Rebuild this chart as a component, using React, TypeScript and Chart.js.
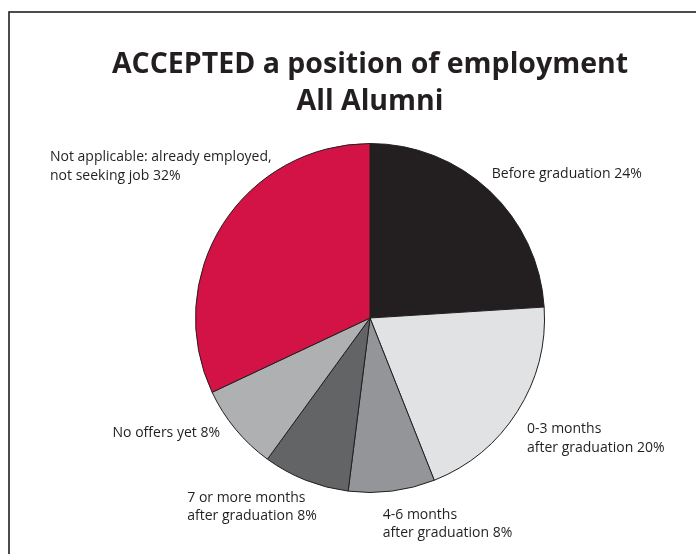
import React, { useEffect, useRef } from "react";
import { Chart, registerables } from "chart.js";

Chart.register(...registerables);

const titleLines = ["ACCEPTED a position of employment", "All Alumni"];
const categories = [
  "Before graduation",
  "0-3 months after graduation",
  "4-6 months after graduation",
  "7 or more months after graduation",
  "No offers yet",
  "Not applicable: already employed, not seeking job",
];
const values = [24, 20, 8, 8, 8, 32];
const labelLines = [
  ["Before graduation 24%"],
  ["0-3 months", "after graduation 20%"],
  ["4-6 months", "after graduation 8%"],
  ["7 or more months", "after graduation 8%"],
  ["No offers yet 8%"],
  ["Not applicable: already employed,", "not seeking job 32%"],
];
const sliceColors = ["#231f20", "#e1e2e3", "#939598", "#636466", "#aeb0b2", "#d31245"];

// label placement relative to the arc's mid-angle anchor (outerRadius + gap)
const labelLayout = [
  { dx: -8, dy: -6, align: "left" },
  { dx: -3, dy: 19, align: "left" },
  { dx: -11, dy: 18, align: "left" },
  { dx: -113, dy: 13, align: "left" },
  { dx: -4, dy: -6, align: "right" },
  { dx: -160, dy: -50, align: "left" },
];

const FONT = "'Open Sans', 'Noto Sans', sans-serif";

const framePlugin = {
  id: "frame",
  beforeDraw(chart: any) {
    const ctx = chart.ctx;
    ctx.save();
    ctx.fillStyle = "#ffffff";
    ctx.fillRect(0, 0, chart.width, chart.height);
    ctx.strokeStyle = "#231f20";
    ctx.lineWidth = 1.6;
    ctx.strokeRect(9, 12, chart.width + 40, chart.height + 40);
    ctx.restore();
  },
};

const labelPlugin = {
  id: "sliceLabels",
  afterDatasetsDraw(chart: any) {
    const ctx = chart.ctx;
    const meta = chart.getDatasetMeta(0);
    ctx.save();
    ctx.font = `14px ${FONT}`;
    ctx.fillStyle = "#231f20";
    ctx.textBaseline = "middle";
    meta.data.forEach((arc: any, i: number) => {
      const { x, y, startAngle, endAngle, outerRadius } = arc.getProps(
        ["x", "y", "startAngle", "endAngle", "outerRadius"],
        true
      );
      const mid = (startAngle + endAngle) / 2;
      const r = outerRadius + 15;
      const ax = x + Math.cos(mid) * r + labelLayout[i].dx;
      const ay = y + Math.sin(mid) * r + labelLayout[i].dy;
      const lines = labelLines[i];
      const lh = 18.5;
      ctx.textAlign = labelLayout[i].align;
      lines.forEach((line, j) => {
        ctx.fillText(line, ax, ay + (j - (lines.length - 1) / 2) * lh);
      });
    });
    ctx.restore();
  },
};

export default function App() {
  const ref = useRef<HTMLCanvasElement | null>(null);
  useEffect(() => {
    if (!ref.current) return;
    const chart = new Chart(ref.current, {
      type: "pie",
      data: {
        labels: categories,
        datasets: [
          {
            data: values,
            backgroundColor: sliceColors,
            borderColor: "#231f20",
            borderWidth: 1,
          },
        ],
      },
      options: {
        responsive: false,
        animation: false,
        layout: { padding: { left: 100, right: 56, top: 0, bottom: 61 } },
        plugins: {
          legend: { display: false },
          tooltip: { enabled: false },
          title: {
            display: true,
            text: titleLines,
            color: "#231f20",
            font: { family: FONT, size: 28.5, weight: "bold", lineHeight: 1.3 },
            padding: { top: 46.5, bottom: 22.4 },
          },
        },
      },
      plugins: [framePlugin, labelPlugin],
    });
    return () => chart.destroy();
  }, []);
  return (
    <div style={{ position: "fixed", left: 0, top: 0, width: 696, height: 554, overflow: "hidden" }}>
      <canvas ref={ref} width={696} height={554} />
    </div>
  );
}
